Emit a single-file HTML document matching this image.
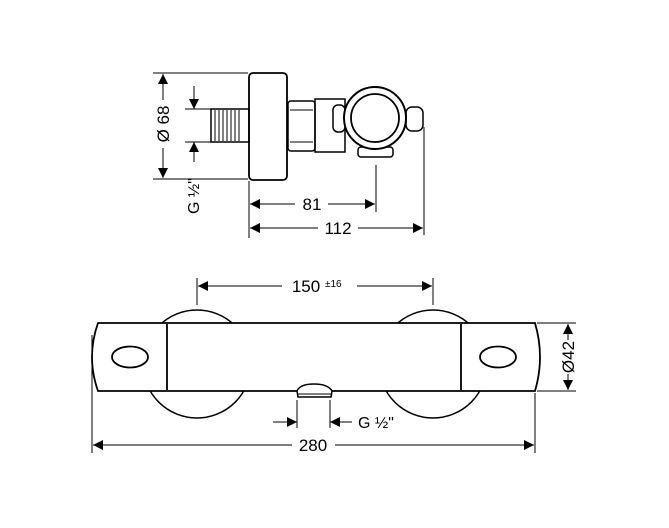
<!DOCTYPE html>
<html><head><style>html,body{margin:0;padding:0;background:#fff}svg{display:block}</style></head>
<body>
<svg width="669" height="528" viewBox="0 0 669 528" xmlns="http://www.w3.org/2000/svg" font-family="Liberation Sans, sans-serif">
<defs>
<marker id="a" viewBox="0 0 10 10" refX="10" refY="5" markerWidth="14" markerHeight="10" markerUnits="userSpaceOnUse" orient="auto-start-reverse"><path d="M0,0L10,5L0,10Z" fill="#000"/></marker>
</defs>
<g stroke="#000" fill="none" stroke-width="1">
<line x1="153" y1="73" x2="248" y2="73"/>
<line x1="153" y1="179" x2="248" y2="179"/>
<line x1="163" y1="74" x2="163" y2="100" marker-start="url(#a)"/>
<line x1="163" y1="148" x2="163" y2="178" marker-end="url(#a)"/>
<line x1="185" y1="109" x2="211" y2="109"/>
<line x1="185" y1="142" x2="211" y2="142"/>
<line x1="194" y1="86" x2="194" y2="109" marker-end="url(#a)"/>
<line x1="194" y1="162" x2="194" y2="142" marker-end="url(#a)"/>
<rect x="211" y="109" width="38" height="33" stroke-width="1.5"/>
<g stroke-width="1"><line x1="215" y1="110" x2="215" y2="141"/><line x1="219" y1="110" x2="219" y2="141"/><line x1="223" y1="110" x2="223" y2="141"/><line x1="227" y1="110" x2="227" y2="141"/><line x1="231" y1="110" x2="231" y2="141"/><line x1="235" y1="110" x2="235" y2="141"/><line x1="239" y1="110" x2="239" y2="141"/></g>
<rect x="249" y="73" width="38" height="107" rx="4" stroke-width="1.8"/>
<rect x="288" y="101" width="27" height="50" rx="3" stroke-width="1.5"/>
<line x1="290" y1="110" x2="313" y2="110"/><line x1="290" y1="142" x2="313" y2="142"/>
<rect x="315" y="99" width="30" height="53" stroke-width="1.5"/>
<rect x="333" y="105" width="12" height="27" rx="5" stroke-width="1.5"/>
<rect x="406" y="107" width="17" height="24" rx="6" stroke-width="1.5"/>
<rect x="358" y="147" width="35" height="10" rx="3" stroke-width="1.5"/>
<circle cx="375" cy="118" r="31" fill="#fff" stroke-width="2"/>
<circle cx="375" cy="118" r="24" stroke-width="1.8"/>
<line x1="249" y1="181" x2="249" y2="238"/>
<line x1="376" y1="165" x2="376" y2="212"/>
<line x1="424" y1="127" x2="424" y2="235"/>
<line x1="250" y1="204" x2="295" y2="204" marker-start="url(#a)"/>
<line x1="328" y1="204" x2="375" y2="204" marker-end="url(#a)"/>
<line x1="250" y1="228" x2="318" y2="228" marker-start="url(#a)"/>
<line x1="358" y1="228" x2="423" y2="228" marker-end="url(#a)"/>
<line x1="197" y1="278" x2="197" y2="305"/>
<line x1="433" y1="278" x2="433" y2="305"/>
<line x1="198" y1="286" x2="282" y2="286" marker-start="url(#a)"/>
<line x1="357" y1="286" x2="432" y2="286" marker-end="url(#a)"/>
<circle cx="197" cy="364" r="54" stroke-width="1.5"/>
<circle cx="433" cy="364" r="54" stroke-width="1.5"/>
<path d="M98,323 L535,323 Q545,357 535,391 L98,391 Q86,357 98,323Z" fill="#fff" stroke-width="1.8"/>
<line x1="167" y1="324" x2="167" y2="390" stroke-width="1.8"/>
<line x1="461" y1="324" x2="461" y2="390" stroke-width="1.8"/>
<ellipse cx="130" cy="357" rx="18" ry="10.5" stroke-width="1.8"/>
<ellipse cx="498" cy="357" rx="18" ry="10.5" stroke-width="1.8"/>
<path d="M297,391 Q300,384 314,384 Q328,384 332,391 L331,397 L298,397Z" fill="#fff" stroke-width="1.5"/>
<line x1="298" y1="394" x2="331" y2="394"/>
<line x1="297" y1="400" x2="297" y2="428"/>
<line x1="330" y1="400" x2="330" y2="428"/>
<line x1="273" y1="422" x2="297" y2="422" marker-end="url(#a)"/>
<line x1="352" y1="422" x2="330" y2="422" marker-end="url(#a)"/>
<line x1="92" y1="335" x2="92" y2="453"/>
<line x1="535" y1="393" x2="535" y2="453"/>
<line x1="93" y1="445" x2="292" y2="445" marker-start="url(#a)"/>
<line x1="335" y1="445" x2="534" y2="445" marker-end="url(#a)"/>
<line x1="537" y1="323" x2="576" y2="323"/>
<line x1="537" y1="391" x2="576" y2="391"/>
<line x1="568" y1="324" x2="568" y2="340" marker-start="url(#a)"/>
<line x1="568" y1="374" x2="568" y2="390" marker-end="url(#a)"/>
</g>
<g font-size="17" fill="#000">
<text x="312" y="210" text-anchor="middle">81</text>
<text x="338" y="234" text-anchor="middle">112</text>
<text x="306" y="292" text-anchor="middle">150</text>
<text x="325" y="287" font-size="10">±16</text>
<text x="358" y="428" font-size="16">G ½"</text>
<text x="313" y="451" text-anchor="middle">280</text>
<text transform="translate(169,124) rotate(-90)" text-anchor="middle">Ø 68</text>
<text transform="translate(199,196) rotate(-90)" text-anchor="middle" font-size="16">G ½"</text>
<text transform="translate(574,357) rotate(-90)" text-anchor="middle">Ø42</text>
</g>
</svg>
</body></html>
